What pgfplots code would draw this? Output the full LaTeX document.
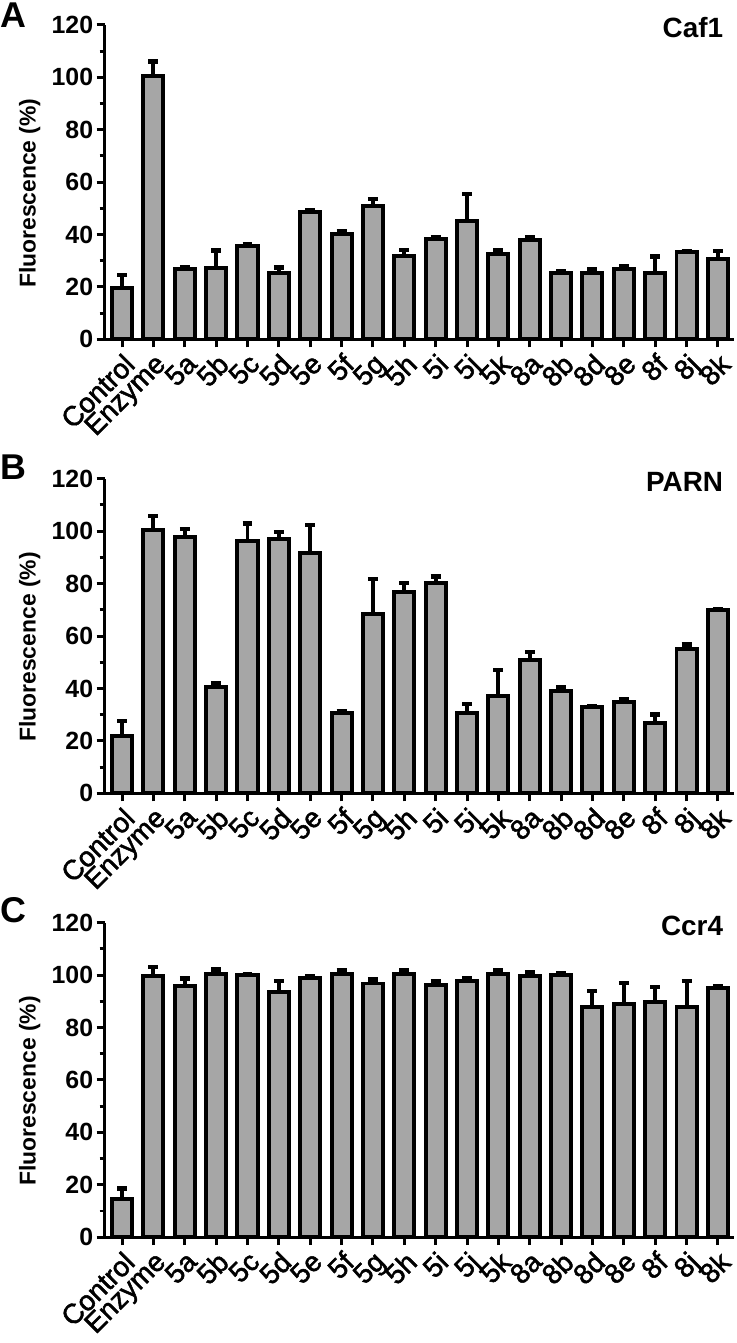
\documentclass[border=0pt]{standalone}
\usepackage{fontspec}
\setmainfont{Liberation Sans}
\newfontfamily\labfont{Liberation Sans}[RawFeature={embolden=1.8}]
\usepackage{pgfplots}
\usepackage{pgfplotstable}
\pgfplotsset{compat=1.18}

\definecolor{barfill}{HTML}{A6A6A6}

\pgfplotstableread{
x y e
0 19.6 4.9
1 100.5 5.5
2 26.7 0.7
3 27.1 6.8
4 35.7 0.6
5 25.2 2.2
6 48.6 0.7
7 40.3 0.9
8 51.0 2.5
9 31.9 2.3
10 38.3 0.8
11 45.2 10.2
12 32.6 1.3
13 38.0 1.0
14 25.2 1.0
15 25.2 1.5
16 26.8 1.3
17 25.5 6.1
18 33.2 0.3
19 30.7 3.1
}\dataA

\pgfplotstableread{
x y e
0 21.8 5.8
1 100.3 5.6
2 97.6 3.2
3 40.4 1.6
4 96.2 6.8
5 97.2 2.5
6 91.8 10.5
7 30.6 0.7
8 68.3 13.5
9 76.8 3.5
10 80.4 2.3
11 30.8 3.3
12 37.3 9.7
13 51.0 3.0
14 39.0 1.5
15 33.1 0.2
16 34.7 1.2
17 26.8 3.2
18 55.1 1.6
19 70.0 0.3
}\dataB

\pgfplotstableread{
x y e
0 14.6 4.0
1 99.6 3.4
2 95.7 3.0
3 100.4 1.8
4 100.1 0.3
5 93.7 4.1
6 98.8 0.8
7 100.4 1.3
8 96.8 1.5
9 100.4 1.3
10 96.4 1.4
11 97.8 1.2
12 100.4 1.3
13 99.6 1.6
14 100.1 0.8
15 87.7 6.2
16 89.0 8.0
17 89.9 5.6
18 87.7 10.1
19 95.0 0.8
}\dataC

\pgfplotsset{
  panel/.style={
    scale only axis, width=316pt, height=158pt,
    clip=false,
    xmin=-0.56, xmax=19.5, ymin=0, ymax=120,
    axis x line*=bottom, axis y line*=left,
    axis line style={line width=1.5pt, black, -},
    every outer x axis line/.append style={-},
    every outer y axis line/.append style={-},
    ytick={0,20,...,120}, minor y tick num=1,
    xtick={0,...,19},
    xticklabels={Control,Enzyme,5a,5b,5c,5d,5e,5f,5g,5h,5i,5j,5k,8a,8b,8d,8e,8f,8j,8k},
    tick align=outside, major tick length=4pt, minor tick length=2.5pt,
    tick style={line width=1.5pt, black},
    /pgf/number format/assume math mode=true,
    yticklabel style={font=\bfseries\fontsize{12.5}{14}\selectfont, inner sep=1.5pt},
    xticklabel style={font=\labfont\fontsize{14}{16}\selectfont, rotate=45, anchor=north east, inner sep=1.5pt},
    ylabel={Fluorescence (\%)},
    ylabel style={font=\bfseries\fontsize{11.5}{13}\selectfont, at={(axis description cs:-0.119,0.465)}, anchor=center},
  },
  bars/.style={
    ybar, bar width=0.64, fill=barfill, draw=black, line width=2pt,
    error bars/.cd, y dir=plus, y explicit,
    error bar style={line width=2pt, black},
    error mark options={line width=2.2pt, black, mark size=2.5pt, rotate=90},
  },
}
\tikzset{
  ttl/.style={anchor=east, inner sep=0pt, font=\bfseries\fontsize{14}{16}\selectfont},
  lett/.style={anchor=west, inner sep=0pt, font=\bfseries\fontsize{18}{20}\selectfont},
}

\begin{document}
\begin{tikzpicture}
\path (0,0) rectangle (369.5pt,-671.5pt);

\begin{axis}[panel, at={(52.5pt,-170.5pt)}, anchor=south west]
\addplot[bars] table[x=x, y=y, y error=e]{\dataA};
\node[ttl] at (axis description cs:0.984,0.99) {Caf1};
\node[lett] at (axis description cs:-0.166,1.03) {A};
\end{axis}

\begin{axis}[panel, at={(52.5pt,-398.5pt)}, anchor=south west]
\addplot[bars] table[x=x, y=y, y error=e]{\dataB};
\node[ttl] at (axis description cs:0.984,0.99) {PARN};
\node[lett] at (axis description cs:-0.166,1.038) {B};
\end{axis}

\begin{axis}[panel, at={(52.5pt,-621.5pt)}, anchor=south west]
\addplot[bars] table[x=x, y=y, y error=e]{\dataC};
\node[ttl] at (axis description cs:0.984,0.99) {Ccr4};
\node[lett] at (axis description cs:-0.166,1.04) {C};
\end{axis}
\end{tikzpicture}
\end{document}
